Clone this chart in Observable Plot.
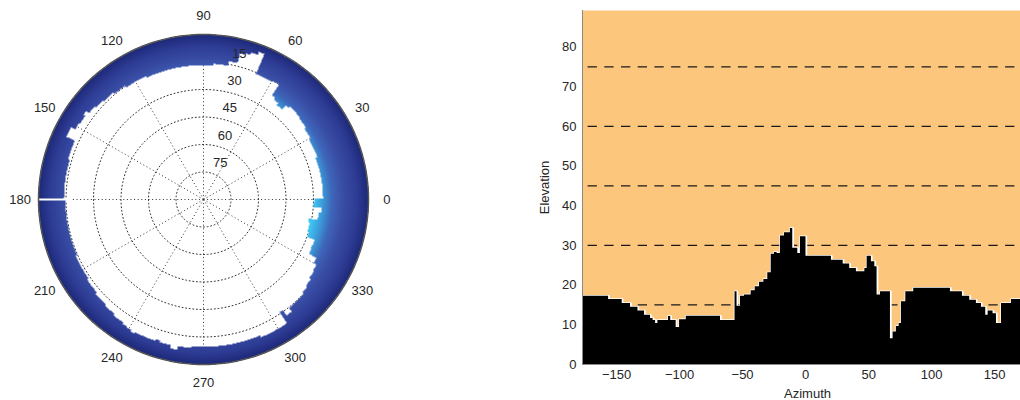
<!DOCTYPE html>
<html><head><meta charset="utf-8">
<script src="https://cdn.jsdelivr.net/npm/d3@7"></script>
<script src="https://cdn.jsdelivr.net/npm/@observablehq/plot@0.6"></script>
<style>
body{margin:0;background:#fff;overflow:hidden;width:1020px;height:400px;}
#wrap{position:relative;width:1020px;height:400px;overflow:hidden;}
#polar{position:absolute;left:0;top:0;width:410px;}
#cart{position:absolute;left:520px;top:0;width:530px;}
svg{max-width:none !important;}
</style></head><body><div id="wrap"><div id="polar"></div><div id="cart"></div></div>
<script>
// Horizon profile: azimuth where each step starts (deg) and elevation of that step (deg)
const horizonAz = [-179.6,-156.3,-145.5,-138.9,-133,-127.8,-123,-121,-119,-117.2,-108.8,-107,-102.7,-100,-94.7,-67.5,-56,-54.4,-51.7,-48.5,-43.2,-40,-36.6,-33.1,-30,-27.3,-24.7,-22.6,-20,-16.8,-12.1,-10.2,-6.2,-4.1,0.3,20.5,29.8,35,40.3,47,48.8,52.2,54.9,56.7,59.4,67.3,69.4,72,74.2,76,79.5,85.8,114.9,124.4,130.2,135.5,139.5,142.9,144.8,148.7,151.4,155.4,163.3];
const horizonEl = [17.2,16.4,15.4,14.4,13.5,12.4,11.6,11.1,10.3,11.1,12.1,11.1,9.3,11.3,12.15,11.1,18.3,14.7,17.2,17.5,18.6,19.6,20.7,21.4,23.1,27.8,28.2,28,32.4,33.2,34.3,29.3,28,32.2,27.3,26.3,25.3,24.2,23.4,24.2,27.3,25.9,24.6,17.5,18.3,6.5,8.2,9.6,10.3,15.8,18.3,19.2,18.3,17.2,16.2,15.4,14.4,12.4,13.5,12.8,10.3,15.4,16.4];
const azEnd = 179.6;
const polarShift = 2.5;

const ringLevels = [15, 30, 45, 60, 75];
const spokeAngles = [0, 30, 60, 90, 120, 150, 180, 210, 240, 270, 300, 330];
const elevTicks = [0, 10, 20, 30, 40, 50, 60, 70, 80];
const azTicks = [-150, -100, -50, 0, 50, 100, 150];
const dashLevels = [15, 30, 45, 60, 75];
const colorStops = [0, 6, 14, 20, 25, 30];
const colorRange = ["#1d2878", "#2d3b93", "#3a4ea6", "#3e66ba", "#3b9ad8", "#3ec6f2"];

const rad = Math.PI / 180;
const font = {fontFamily: "'Liberation Sans', Arial, sans-serif", fontSize: "13px", color: "#262626", background: "transparent", maxWidth: "none"};

function horizonAt(az) {
  if (az < horizonAz[0] || az > azEnd) return NaN;
  const i = d3.bisectRight(horizonAz, az) - 1;
  return horizonEl[i];
}

// ---- Polar panel ----
const circleAngles = d3.range(0, 361, 2);
const ringPts = ringLevels.flatMap(e => circleAngles.map(a => ({ring: e, r: 90 - e, a})));
const outerPts = circleAngles.map(a => ({r: 90, a}));

const polar = Plot.plot({
  width: 410, height: 400,
  marginLeft: 38, marginRight: 42, marginTop: 34, marginBottom: 36,
  x: {domain: [-90, 90], axis: null},
  y: {domain: [-90, 90], axis: null},
  color: {type: "linear", domain: colorStops, range: colorRange, clamp: true},
  style: font,
  marks: [
    Plot.line(ringPts, {x: d => d.r * Math.cos(d.a * rad), y: d => d.r * Math.sin(d.a * rad), z: "ring", stroke: "#333", strokeWidth: 1, strokeDasharray: "1,2.6"}),
    Plot.link(spokeAngles, {x1: () => 0, y1: () => 0, x2: a => 90 * Math.cos(a * rad), y2: a => 90 * Math.sin(a * rad), stroke: "#333", strokeWidth: 1, strokeDasharray: "1,2.6"}),
    // the seam of the horizon surface at 180° shows as a white gap
    Plot.link([180], {x1: a => 72 * Math.cos(a * rad), y1: () => 0, x2: a => 90 * Math.cos(a * rad), y2: () => 0, stroke: "white", strokeWidth: 3}),
    Plot.raster({
      x1: -90, y1: -90, x2: 90, y2: 90, pixelSize: 1, imageRendering: "auto",
      fill: (x, y) => {
        const r = Math.hypot(x, y);
        if (r > 90) return NaN;
        const el = 90 - r;
        const az = Math.atan2(y, x) / rad;
        const h = horizonAt(az) - polarShift;
        return el <= h ? el : NaN;
      }
    }),
    Plot.line(outerPts, {x: d => d.r * Math.cos(d.a * rad), y: d => d.r * Math.sin(d.a * rad), stroke: "#555", strokeWidth: 1.5}),
    Plot.text(ringLevels, {x: e => (90 - e) * Math.cos(80 * rad), y: e => (90 - e) * Math.sin(80 * rad), text: e => String(e), dx: 12, dy: -10, fill: "#262626", fontSize: 13}),
    Plot.text(spokeAngles, {x: a => 100 * Math.cos(a * rad), y: a => 100 * Math.sin(a * rad), text: a => String(a), fill: "#262626", fontSize: 13})
  ]
});
document.getElementById("polar").append(polar);

// ---- Cartesian panel ----
const profile = horizonAz.map((a, i) => ({az: a, el: horizonEl[i]}))
  .concat([{az: azEnd, el: horizonEl[horizonEl.length - 1]}]);

const cart = Plot.plot({
  width: 530, height: 400,
  marginLeft: 62, marginRight: 18, marginTop: 10, marginBottom: 36,
  x: {domain: [-177, 180], ticks: azTicks, tickSize: 0, tickPadding: 5, label: "Azimuth", labelAnchor: "center", labelArrow: "none"},
  y: {domain: [0, 89.2], ticks: elevTicks, tickSize: 0, tickPadding: 6, label: "Elevation", labelAnchor: "center", labelOffset: 43, labelArrow: "none"},
  style: font,
  marks: [
    Plot.frame({fill: "#fcc67d"}),
    Plot.ruleY(dashLevels, {stroke: "#1a1a1a", strokeWidth: 1.3, strokeDasharray: "9.3,7.4", strokeDashoffset: 11.1}),
    Plot.line(profile, {x: "az", y: "el", curve: "step-after", stroke: "white", strokeWidth: 2.5, clip: true}),
    Plot.areaY(profile, {x: "az", y: "el", curve: "step-after", fill: "black", clip: true}),
    Plot.ruleX([-177], {stroke: "#8a8a8a"}),
    Plot.ruleY([0], {stroke: "#8a8a8a"})
  ]
});
document.getElementById("cart").append(cart);
</script>
</body></html>
